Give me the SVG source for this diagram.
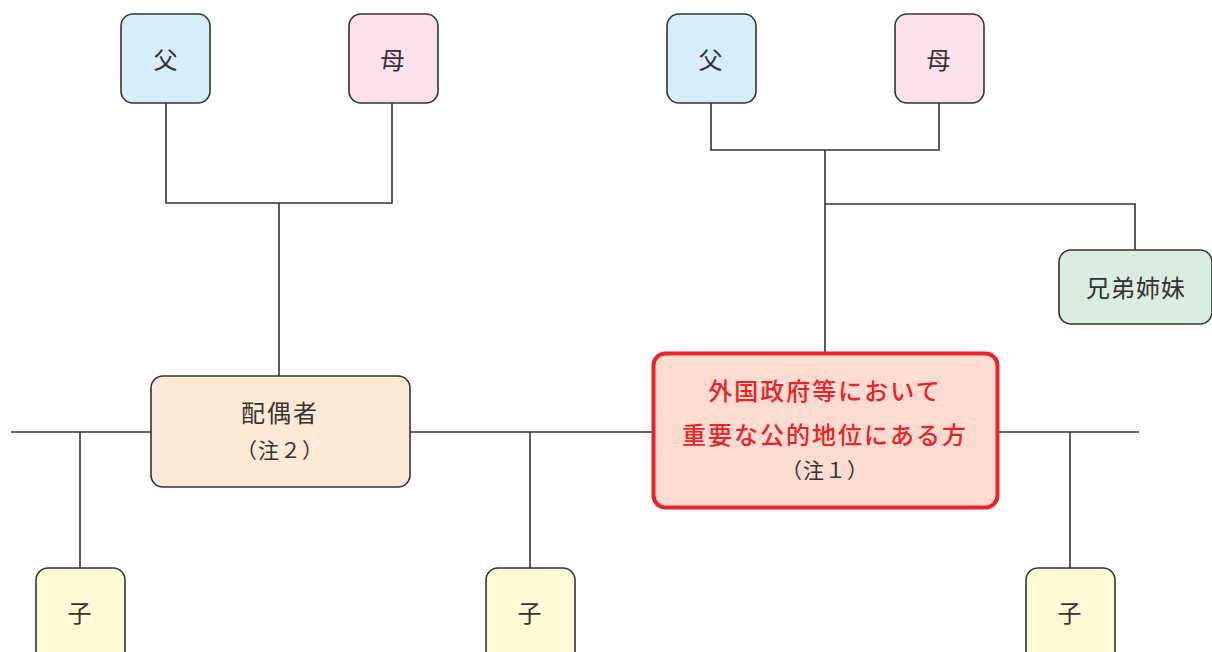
<svg xmlns="http://www.w3.org/2000/svg" width="1212" height="652" viewBox="0 0 1212 652">
<style>
.n{stroke:#333;stroke-width:1.6}
.t{font-family:"Noto Sans CJK JP","Noto Sans",sans-serif;font-size:24px;fill:#333;text-anchor:middle;dominant-baseline:central;letter-spacing:1px}
.s{font-size:21px}
.r{fill:#E8232A;font-weight:500;letter-spacing:2px}
.c{fill:none;stroke:#333;stroke-width:1.6}
</style>
<rect width="1212" height="652" fill="#fff"/>
<g id="connectors">
<path class="c" d="M166 103V203H392V103M279 203V376"/>
<path class="c" d="M711 103V150H939V103M825 150V352M825 204H1135V250"/>
<path class="c" d="M11 432H151M410 432H652M999 432H1139"/>
<path class="c" d="M80 432V568M530 432V568M1070 432V568"/>
</g>
<g id="father1"><rect class="n" x="121" y="14" width="89" height="89" rx="12" fill="#D5EEFA"/><text class="t" x="166" y="58">父</text></g>
<g id="mother1"><rect class="n" x="349" y="14" width="89" height="89" rx="12" fill="#FCE0EC"/><text class="t" x="393" y="58">母</text></g>
<g id="father2"><rect class="n" x="667" y="14" width="89" height="89" rx="12" fill="#D5EEFA"/><text class="t" x="711" y="58">父</text></g>
<g id="mother2"><rect class="n" x="895" y="14" width="89" height="89" rx="12" fill="#FCE0EC"/><text class="t" x="939" y="58">母</text></g>
<g id="siblings"><rect class="n" x="1059" y="250" width="153" height="74" rx="12" fill="#D9EDE0"/><text class="t" x="1136" y="286">兄弟姉妹</text></g>
<g id="spouse"><rect class="n" x="151" y="376" width="259" height="111" rx="12" fill="#FEE9D6"/><text class="t" x="280" y="411" style="letter-spacing:2px">配偶者</text><text class="t s" x="280" y="449">（注２）</text></g>
<g id="pep"><rect x="653.5" y="353.5" width="344" height="154" rx="12" fill="#FCDCD0" stroke="#E8232A" stroke-width="4"/><text class="t r" x="825" y="389">外国政府等において</text><text class="t r" x="825" y="433">重要な公的地位にある方</text><text class="t s" x="825" y="469">（注１）</text></g>
<g id="child1"><rect class="n" x="36" y="568" width="89" height="100" rx="12" fill="#FFF9D6"/><text class="t" x="80" y="611">子</text></g>
<g id="child2"><rect class="n" x="486" y="568" width="89" height="100" rx="12" fill="#FFF9D6"/><text class="t" x="530" y="611">子</text></g>
<g id="child3"><rect class="n" x="1026" y="568" width="89" height="100" rx="12" fill="#FFF9D6"/><text class="t" x="1070" y="611">子</text></g>
</svg>
